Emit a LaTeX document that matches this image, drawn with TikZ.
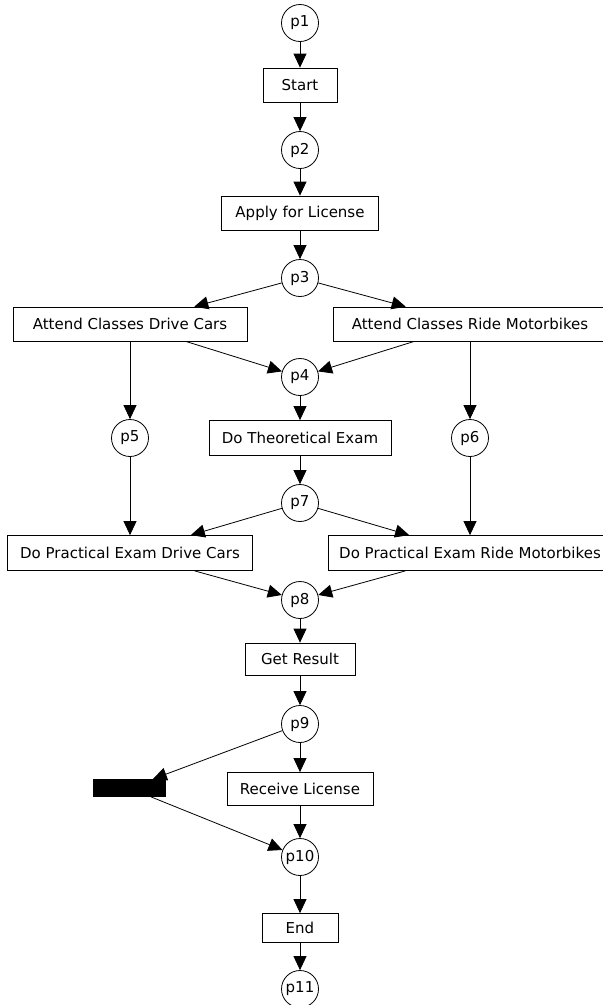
\documentclass[tikz,border=0pt]{standalone}
\usepackage{fontspec}
\setmainfont{DejaVu Sans}
\usetikzlibrary{positioning, arrows.meta}

\begin{document}
\begin{tikzpicture}[x=1pt,y=1pt,on grid,auto,line width=0.8pt,
    font=\fontsize{15}{18}\selectfont,
    pnode/.style={circle,draw,minimum size=37pt,inner sep=0pt},
    tnode/.style={rectangle,draw,minimum height=34pt,inner sep=3pt},
    silent/.style={rectangle,draw,fill=black,minimum width=72pt,minimum height=17pt,inner sep=0pt}]
  \tikzset{->, >={Triangle[length=14pt,width=13pt]}}
  \useasboundingbox (0,0) rectangle (603,-1005);

  \node[pnode]  (p1) at (300,-23)                                      {p1};
  \node[tnode,minimum width=74pt]  (start)   [below       = 62pt of p1]    {Start};
  \node[pnode]  (p2)      [below       = 65pt of start]                 {p2};
  \node[tnode,minimum width=157pt] (apply)   [below       = 63pt of p2]    {Apply for License};
  \node[pnode]  (p3)      [below       = 65pt of apply]                 {p3};
  \node[tnode,minimum width=234pt] (acdc)    [below left  = 46pt and 170pt of p3] {Attend Classes Drive Cars};
  \node[tnode,minimum width=274pt] (acrm)    [below right = 46pt and 170pt of p3] {Attend Classes Ride Motorbikes};
  \node[pnode]  (p4)      [below       = 99pt of p3]                    {p4};
  \node[pnode]  (p5)      [below       = 114pt of acdc]                 {p5};
  \node[tnode,minimum width=182pt,minimum height=35pt] (dte) [below = 61pt of p4] {Do Theoretical Exam};
  \node[pnode]  (p6)      [below       = 114pt of acrm]                 {p6};
  \node[pnode]  (p7)      [below       = 65pt of dte]                   {p7};
  \node[tnode,minimum width=245pt,minimum height=35pt] (dpedc) [below left  = 50pt and 170pt of p7] {Do Practical Exam Drive Cars};
  \node[tnode,minimum width=284pt,minimum height=35pt] (dperm) [below right = 50pt and 170pt of p7] {Do Practical Exam Ride Motorbikes};
  \node[pnode]  (p8)      [below       = 97pt of p7]                    {p8};
  \node[tnode,minimum width=110pt,minimum height=32pt] (result) [below = 59pt of p8] {Get Result};
  \node[pnode]  (p9)      [below       = 65pt of result]                {p9};
  \node[tnode,minimum width=146pt,minimum height=33pt] (receive) [below = 65pt of p9] {Receive License};
  \node[silent] (skip)    [below left  = 64pt and 171pt of p9]          {};
  \node[pnode]  (p10)     [below       = 68pt of receive]               {p10};
  \node[tnode,minimum width=76pt,minimum height=29pt] (end) [below = 71pt of p10] {End};
  \node[pnode]  (p11)     [below       = 61pt of end]                   {p11};

  \path[->]
    (p1)      edge (start)
    (start)   edge (p2)
    (p2)      edge (apply)
    (apply)   edge (p3)
    (p3)      edge (acdc)
              edge (acrm)
    (acdc)    edge (p4)
              edge (p5)
    (acrm)    edge (p4)
              edge (p6)
    (p4)      edge (dte)
    (dte)     edge (p7)
    (p5)      edge (dpedc)
    (p6)      edge (dperm)
    (p7)      edge (dpedc)
              edge (dperm)
    (dpedc)   edge (p8)
    (dperm)   edge (p8)
    (p8)      edge (result)
    (result)  edge (p9)
    (p9)      edge (receive)
              edge (skip)
    (skip)    edge (p10)
    (receive) edge (p10)
    (p10)     edge (end)
    (end)     edge (p11);
\end{tikzpicture}
\end{document}
